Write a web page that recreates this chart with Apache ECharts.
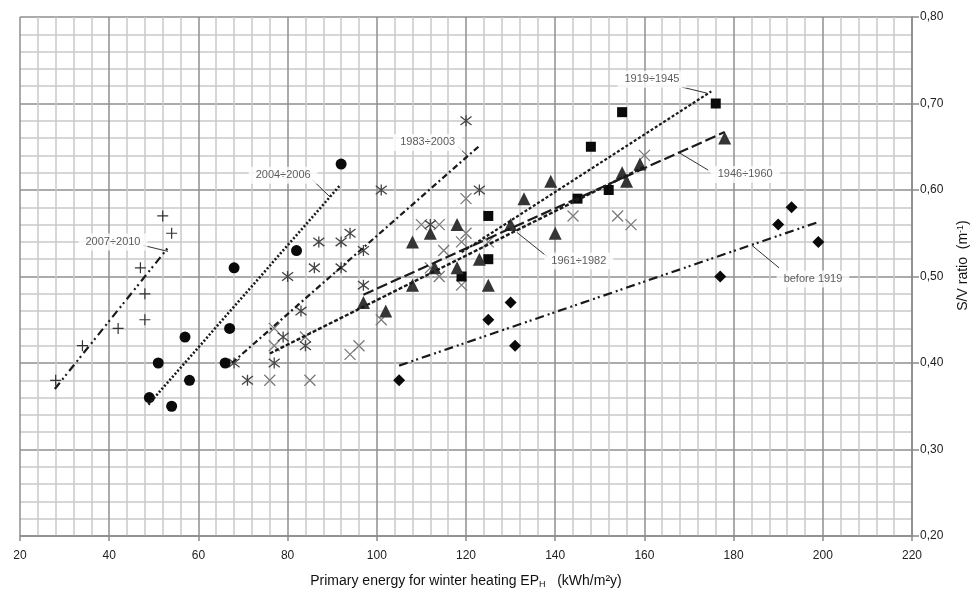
<!DOCTYPE html>
<html>
<head>
<meta charset="utf-8">
<script src="https://cdn.jsdelivr.net/npm/echarts@6/dist/echarts.min.js"></script>
<style>
html,body{margin:0;padding:0;background:#fff;}
#c{width:975px;height:593px;}
</style>
</head>
<body>
<div id="c"></div>
<script>
// ---- data ----
const seriesNames = ['before 1919', '1919÷1945', '1946÷1960', '1961÷1982', '1983÷2003', '2004÷2006', '2007÷2010'];

const ptsBefore1919 = [[105,0.38],[125,0.45],[130,0.47],[131,0.42],[177,0.50],[190,0.56],[193,0.58],[199,0.54]];
const pts1919_1945 = [[119,0.50],[125,0.52],[125,0.57],[145,0.59],[148,0.65],[152,0.60],[155,0.69],[176,0.70]];
const pts1946_1960 = [[97,0.47],[102,0.46],[108,0.49],[108,0.54],[112,0.55],[113,0.51],[118,0.51],[118,0.56],[123,0.52],[125,0.49],[130,0.56],[133,0.59],[139,0.61],[140,0.55],[155,0.62],[156,0.61],[159,0.63],[178,0.66]];
const pts1961_1982 = [[76,0.38],[77,0.42],[77,0.44],[84,0.43],[85,0.38],[94,0.41],[96,0.42],[101,0.45],[110,0.56],[112,0.51],[114,0.50],[114,0.56],[115,0.53],[119,0.49],[119,0.54],[120,0.55],[120,0.59],[125,0.54],[144,0.57],[154,0.57],[157,0.56],[160,0.64]];
const pts1983_2003 = [[68,0.40],[71,0.38],[77,0.40],[79,0.43],[80,0.50],[83,0.46],[84,0.42],[86,0.51],[87,0.54],[92,0.51],[92,0.54],[94,0.55],[97,0.49],[97,0.53],[101,0.60],[112,0.56],[120,0.68],[123,0.60]];
const pts2004_2006 = [[49,0.36],[51,0.40],[54,0.35],[57,0.43],[58,0.38],[66,0.40],[67,0.44],[68,0.51],[82,0.53],[92,0.63]];
const pts2007_2010 = [[28,0.38],[34,0.42],[42,0.44],[48,0.45],[48,0.48],[47,0.51],[54,0.55],[52,0.57]];

// trend line end points
const trendBefore1919 = [[105,0.397],[199,0.563]];
const trend1919_1945 = [[119,0.528],[175,0.714]];
const trend1946_1960 = [[97,0.479],[178,0.667]];
const trend1961_1982 = [[76,0.411],[160,0.627]];
const trend1983_2003 = [[67.5,0.400],[123,0.651]];
const trend2004_2006 = [[48.8,0.352],[91.7,0.605]];
const trend2007_2010 = [[27.8,0.370],[53.6,0.536]];

// annotation boxes (centre) and leader lines, in data units
const labelPos = [[197.8,0.497],[161.7,0.728],[182.6,0.618],[145.3,0.518],[111.4,0.655],[79.0,0.617],[40.85,0.540]];
const leaders = [
  [[184.1,0.536],[190.2,0.510]],
  [[168.4,0.719],[174.0,0.712]],
  [[167.5,0.644],[174.3,0.623]],
  [[131.4,0.551],[138.2,0.523]],
  [[118.2,0.650],[120.2,0.640]],
  [[85.5,0.612],[89.5,0.592]],
  [[47.6,0.536],[53.2,0.529]]
];

const xTickMin = 20, xTickMax = 220, xTickStep = 20;
const yTickMin = 0.2, yTickMax = 0.8, yTickStep = 0.1;

// ---- chart ----
const chart = echarts.init(document.getElementById('c'), null, {renderer: 'canvas'});

const crossPath = 'path://M0,0L10,10M10,0L0,10';
const starPath = 'path://M0,0L10,10M10,0L0,10M5,-1.5L5,11.5';
const plusPath = 'path://M5,0L5,10M0,5L10,5';

function strokeSymbolSeries(name, data, path, color, size, bw) {
  return {
    name, type: 'scatter', data, symbol: path, symbolSize: size,
    itemStyle: {color: 'rgba(0,0,0,0)', borderColor: color, borderWidth: bw, opacity: 1},
    z: 4, silent: true
  };
}
function fillSeries(name, data, symbol, color, size) {
  return {name, type: 'scatter', data, symbol, symbolSize: size,
    itemStyle: {color, opacity: 1}, z: 5, silent: true};
}
function trendSeries(name, data, dash, width, leader) {
  return {
    name: name + ' trend', type: 'line', data, symbol: 'none', z: 6, silent: true,
    lineStyle: {color: '#1a1a1a', width, type: dash, cap: 'butt'},
    markLine: {
      silent: true, symbol: ['none','none'], animation: false,
      label: {show: false},
      lineStyle: {color: '#333', width: 1, type: 'solid'},
      data: [[{coord: leader[0]}, {coord: leader[1]}]]
    }
  };
}

const fmtY = v => v.toFixed(2).replace('.', ',');

const option = {
  animation: false,
  backgroundColor: '#fff',
  grid: {left: 20, right: 63, top: 17, bottom: 57, containLabel: false, outerBoundsMode: 'none'},
  xAxis: {
    type: 'value', min: xTickMin, max: xTickMax, interval: xTickStep,
    name: 'Primary energy for winter heating EP{sub|H}   (kWh/m²y)',
    nameLocation: 'middle', nameGap: 38,
    nameTextStyle: {fontFamily: 'Liberation Sans', fontSize: 14, color: '#111',
      rich: {sub: {fontSize: 9, verticalAlign: 'bottom', padding: [6,0,0,0], fontFamily: 'Liberation Sans', color: '#111'}}},
    axisLine: {show: true, lineStyle: {color: '#8a8a8a', width: 1.5}},
    axisTick: {show: true, length: 5, lineStyle: {color: '#8a8a8a', width: 1.5}},
    axisLabel: {fontFamily: 'Liberation Sans', fontSize: 12, color: '#222', margin: 14},
    splitLine: {show: true, lineStyle: {color: '#8f8f8f', width: 1.5}},
    minorTick: {show: false, splitNumber: 5},
    minorSplitLine: {show: true, lineStyle: {color: '#c9c9c9', width: 1.5}}
  },
  yAxis: {
    type: 'value', position: 'right', min: yTickMin, max: yTickMax, interval: yTickStep,
    name: 'S/V ratio  (m{sup|-1})', nameLocation: 'middle', nameGap: 44, nameRotate: 90,
    nameTextStyle: {fontFamily: 'Liberation Sans', fontSize: 14, color: '#111', padding: [0,0,0,22],
      rich: {sup: {fontSize: 9, verticalAlign: 'top', padding: [0,0,6,0], fontFamily: 'Liberation Sans', color: '#111'}}},
    axisLine: {show: true, lineStyle: {color: '#8a8a8a', width: 1.5}},
    axisTick: {show: true, length: 7, lineStyle: {color: '#8a8a8a', width: 1.5}},
    axisLabel: {fontFamily: 'Liberation Sans', fontSize: 12, color: '#222', margin: 8, formatter: fmtY},
    splitLine: {show: true, lineStyle: {color: '#8f8f8f', width: 1.5}},
    minorTick: {show: false, splitNumber: 5},
    minorSplitLine: {show: true, lineStyle: {color: '#c9c9c9', width: 1.5}}
  },
  series: [
    fillSeries(seriesNames[0], ptsBefore1919, 'diamond', '#0a0a0a', 12),
    fillSeries(seriesNames[1], pts1919_1945, 'rect', '#0a0a0a', 10),
    fillSeries(seriesNames[2], pts1946_1960, 'triangle', '#353535', 13),
    strokeSymbolSeries(seriesNames[3], pts1961_1982, crossPath, '#7a7a7a', 11, 1.3),
    strokeSymbolSeries(seriesNames[4], pts1983_2003, starPath, '#444', 11, 1.3),
    fillSeries(seriesNames[5], pts2004_2006, 'circle', '#0a0a0a', 11),
    strokeSymbolSeries(seriesNames[6], pts2007_2010, plusPath, '#333', 11, 1.2),

    trendSeries(seriesNames[0], trendBefore1919, [9,4,2,3,2,4], 2.2, leaders[0]),
    trendSeries(seriesNames[1], trend1919_1945, [3,2], 2.2, leaders[1]),
    trendSeries(seriesNames[2], trend1946_1960, [11,4], 2.2, leaders[2]),
    trendSeries(seriesNames[3], trend1961_1982, [4,2], 2.4, leaders[3]),
    trendSeries(seriesNames[4], trend1983_2003, [6,3,2,3], 2.2, leaders[4]),
    trendSeries(seriesNames[5], trend2004_2006, [2,2], 2.6, leaders[5]),
    trendSeries(seriesNames[6], trend2007_2010, [8,4,2,3,2,4], 2.2, leaders[6]),

    {
      name: 'annotations', type: 'scatter', silent: true, z: 10,
      symbol: 'circle', symbolSize: 1,
      itemStyle: {color: 'rgba(0,0,0,0)'},
      data: seriesNames.map((n, i) => ({name: n, value: labelPos[i]})),
      label: {
        show: true, position: 'inside', formatter: '{b}',
        fontFamily: 'Liberation Sans', fontSize: 11, color: '#333',
        backgroundColor: '#fff', padding: [3, 7]
      }
    }
  ]
};
chart.setOption(option);
</script>
</body>
</html>
